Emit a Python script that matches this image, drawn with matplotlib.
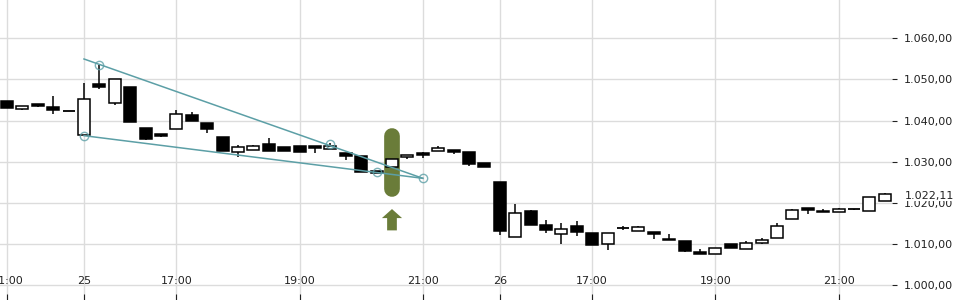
import matplotlib
matplotlib.use('Agg')
import matplotlib.pyplot as plt
from matplotlib.ticker import FuncFormatter

# 15-min candles, index based x axis (session gaps removed)
opens = [1044.8, 1042.9, 1044.0, 1043.2, 1042.2, 1036.5, 1048.9, 1044.2, 1048.2, 1038.1,
         1036.8, 1037.9, 1041.3, 1039.3, 1036.0, 1032.4, 1032.7, 1034.3, 1033.5, 1033.7,
         1033.8, 1033.0, 1032.1, 1031.3, 1027.8, 1028.7, 1031.0, 1032.1, 1032.6, 1032.8,
         1032.3, 1029.6, 1025.0, 1011.7, 1017.9, 1014.5, 1012.4, 1014.3, 1012.6, 1009.8,
         1013.7, 1013.0, 1012.8, 1011.0, 1010.6, 1007.9, 1007.4, 1009.9, 1008.6, 1010.2,
         1011.3, 1015.9, 1018.6, 1017.9, 1017.8, 1018.3, 1018.0, 1020.4]
highs = [1044.8, 1043.5, 1044.0, 1046.0, 1042.2, 1049.1, 1053.5, 1050.0, 1048.2, 1038.1,
         1036.8, 1042.6, 1042.1, 1039.3, 1036.0, 1034.0, 1034.0, 1035.7, 1033.5, 1033.7,
         1033.8, 1034.4, 1032.1, 1031.3, 1027.8, 1030.5, 1031.6, 1032.4, 1033.8, 1032.8,
         1032.3, 1029.6, 1025.0, 1019.6, 1018.2, 1015.7, 1015.0, 1015.5, 1012.6, 1012.5,
         1014.3, 1014.3, 1012.8, 1012.2, 1010.6, 1008.7, 1008.8, 1009.9, 1010.6, 1011.3,
         1015.0, 1018.4, 1018.6, 1018.3, 1018.7, 1018.5, 1021.3, 1022.2]
lows = [1043.1, 1042.6, 1043.4, 1041.7, 1042.2, 1036.5, 1047.6, 1043.7, 1039.7, 1035.2,
        1036.0, 1037.9, 1040.0, 1037.0, 1032.6, 1031.2, 1032.7, 1032.6, 1032.6, 1032.4,
        1032.1, 1033.0, 1030.4, 1027.4, 1027.3, 1028.7, 1030.6, 1030.9, 1032.6, 1031.8,
        1029.0, 1028.7, 1012.1, 1011.7, 1014.6, 1012.6, 1010.0, 1011.9, 1009.7, 1008.5,
        1013.3, 1013.0, 1011.2, 1010.8, 1008.0, 1007.5, 1007.4, 1008.8, 1008.6, 1010.0,
        1011.3, 1015.9, 1017.3, 1017.6, 1017.8, 1018.1, 1018.0, 1020.4]
closes = [1043.1, 1043.5, 1043.6, 1042.6, 1042.2, 1045.2, 1048.2, 1050.0, 1039.7, 1035.5,
          1036.3, 1041.5, 1040.0, 1037.9, 1032.6, 1033.5, 1033.8, 1032.6, 1032.6, 1032.4,
          1033.4, 1033.8, 1031.4, 1027.4, 1027.3, 1030.5, 1031.6, 1031.7, 1033.3, 1032.3,
          1029.5, 1028.7, 1013.1, 1017.4, 1014.6, 1013.4, 1013.5, 1012.9, 1009.7, 1012.5,
          1013.7, 1014.0, 1012.4, 1010.9, 1008.2, 1007.5, 1008.8, 1008.8, 1010.1, 1010.8,
          1014.2, 1018.1, 1018.2, 1017.8, 1018.3, 1018.3, 1021.3, 1022.11]

tick_pos = [0, 5, 11, 19, 27, 32, 38, 46, 54]
tick_lbl = ['21:00', '25', '17:00', '19:00', '21:00', '26', '17:00', '19:00', '21:00']
y_ticks = [1000, 1010, 1020, 1030, 1040, 1050, 1060]

# wedge drawing: two trendlines and their anchor points
upper_x, upper_y = [5, 27], [1055.0, 1025.9]
lower_x, lower_y = [5, 27], [1036.3, 1025.9]
anchor_x = [6, 21, 5, 24, 27]
anchor_y = [1053.5, 1034.2, 1036.3, 1027.4, 1025.9]

# signal marker
signal_idx = 25
signal_span = [1023.2, 1036.2]
arrow_span = [1013.2, 1018.4]

teal = '#5c9fa6'
olive = '#6a7c39'


def eu_fmt(v, pos=None):
    s = f'{v:,.2f}'
    return s.replace(',', '#').replace('.', ',').replace('#', '.')


fig = plt.figure(figsize=(9.6, 3.0), dpi=100)
ax = fig.add_axes([0, 0, 892 / 960, 1])

ax.set_xlim(-0.455, 57.47)
ax.set_ylim(996.22, 1069.39)

# candles
w = 0.78
for i in range(len(opens)):
    o, h, l, c = opens[i], highs[i], lows[i], closes[i]
    ax.vlines(i, l, h, color='black', lw=1.1, zorder=3)
    lo, hi = min(o, c), max(o, c)
    if hi - lo < 0.04:
        ax.hlines(o, i - w / 2, i + w / 2, color='black', lw=1.3, zorder=4)
        continue
    fc = 'white' if c > o else 'black'
    ax.bar(i, hi - lo, bottom=lo, width=w, facecolor=fc, edgecolor='black',
           lw=1.1, zorder=4)

# signal pill + arrow
ax.plot([signal_idx, signal_idx], signal_span, color=olive, lw=11.3,
        solid_capstyle='round', zorder=2)
ax.annotate('', xy=(signal_idx, arrow_span[1]), xytext=(signal_idx, arrow_span[0]),
            arrowprops=dict(arrowstyle='simple,head_length=0.65,head_width=1.45,tail_width=0.7',
                            color=olive, lw=0, shrinkA=0, shrinkB=0, mutation_scale=10))

# wedge lines
ax.plot(upper_x, upper_y, color=teal, lw=1.1, zorder=5)
ax.plot(lower_x, lower_y, color=teal, lw=1.1, zorder=5)
ax.plot(anchor_x, anchor_y, 'o', ms=6, mfc='none', mec=teal, mew=1, alpha=0.8, zorder=5)

# axes styling
for s in ax.spines.values():
    s.set_visible(False)
ax.set_xticks(tick_pos)
ax.set_xticklabels(tick_lbl)
ax.set_yticks(y_ticks)
ax.yaxis.set_major_formatter(FuncFormatter(eu_fmt))
ax.yaxis.tick_right()
ax.grid(True, color='#dcdcdc', lw=1)
ax.set_axisbelow(True)
ax.tick_params(axis='x', direction='in', length=4, pad=-17, labelsize=8,
               colors='#222222')
ax.tick_params(axis='y', direction='out', length=3.5, pad=5, labelsize=8,
               colors='#222222')

# last price label
ax.annotate(eu_fmt(closes[-1]), xy=(1, closes[-1]), xycoords=('axes fraction', 'data'),
            xytext=(13, -2), textcoords='offset pixels', ha='left', va='center',
            fontsize=8, color='#222222', annotation_clip=False,
            bbox=dict(boxstyle='square,pad=0.05', fc='white', ec='none'))

fig.savefig('out.png', dpi=100)
